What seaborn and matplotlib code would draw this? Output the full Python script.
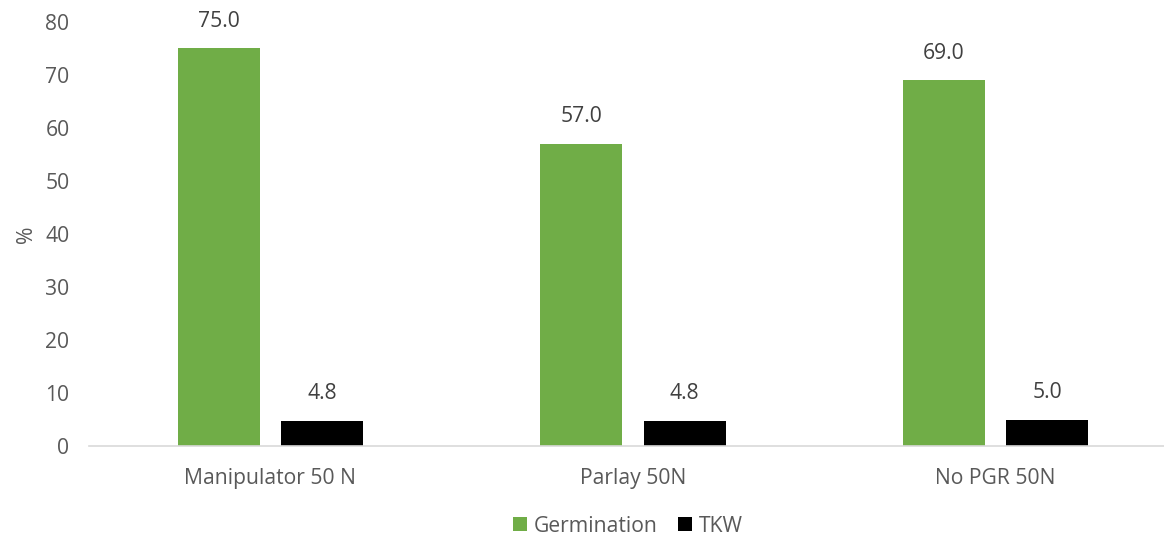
import matplotlib
matplotlib.use("Agg")
import matplotlib.pyplot as plt
import seaborn as sns
import pandas as pd
from matplotlib.patches import Patch

categories = ["Manipulator 50 N", "Parlay 50N", "No PGR 50N"]
series_names = ["Germination", "TKW"]
germination = [75.0, 57.0, 69.0]
tkw = [4.8, 4.8, 5.0]
yticks = [0, 10, 20, 30, 40, 50, 60, 70, 80]
colors = ["#70AD47", "#000000"]

df = pd.DataFrame({
    "category": categories * 2,
    "series": [series_names[0]] * 3 + [series_names[1]] * 3,
    "value": germination + tkw,
})

sns.set_theme(style="white")
plt.rcParams["font.family"] = ["Open Sans", "DejaVu Sans"]

FS = 15.2
fig = plt.figure(figsize=(11.64, 5.37), dpi=100)
ax = fig.add_axes([89 / 1164, (537 - 446) / 537, 1088 / 1164, 424 / 537])

sns.barplot(data=df, x="category", y="value", hue="series", order=categories,
            hue_order=series_names, palette=colors, width=0.57, gap=0.207,
            saturation=1, legend=False, ax=ax, edgecolor="none")

for cont in ax.containers:
    ax.bar_label(cont, fmt="%.1f", padding=12, fontsize=FS, color="#404040")

ax.set_ylim(0, 80)
ax.set_yticks(yticks)
ax.set_xlim(-0.5, 2.5)
ax.set_xlabel("")
ax.set_ylabel("%", fontsize=FS, color="#595959", labelpad=6)
ax.tick_params(axis="both", labelsize=FS, labelcolor="#595959", length=0)
ax.tick_params(axis="x", pad=16)
ax.tick_params(axis="y", pad=14)
for s in ["top", "right", "left"]:
    ax.spines[s].set_visible(False)
ax.spines["bottom"].set_color("#D9D9D9")
ax.spines["bottom"].set_linewidth(1.2)
ax.grid(False)

handles = [Patch(facecolor=c, edgecolor="none") for c in colors]
fig.legend(handles, series_names, loc="center", bbox_to_anchor=(628 / 1164, 1 - 526 / 537),
           ncol=2, frameon=False, fontsize=FS, labelcolor="#595959",
           handlelength=0.65, handleheight=0.65, handletextpad=0.3, columnspacing=1.0)

fig.savefig("out.png", dpi=100)
